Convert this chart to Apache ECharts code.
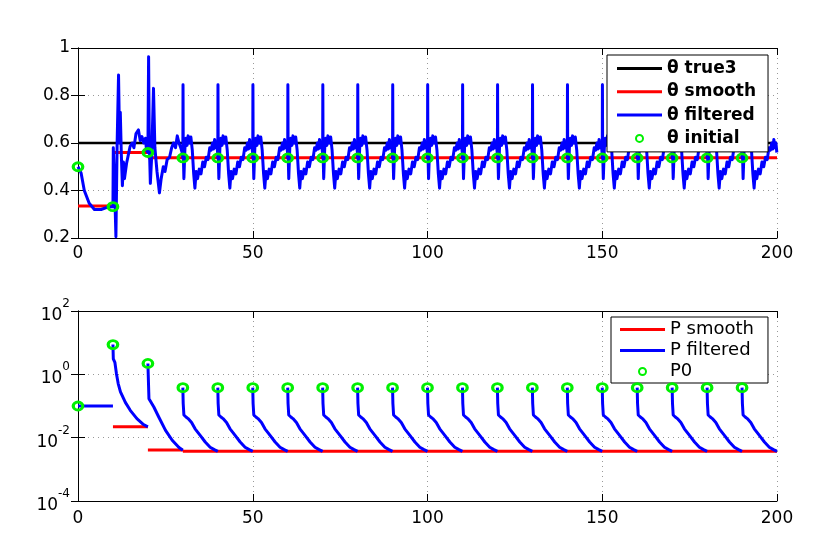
<!DOCTYPE html>
<html><head><meta charset="utf-8">
<script src="https://cdn.jsdelivr.net/npm/echarts@6/dist/echarts.min.js"></script>
<style>html,body{margin:0;padding:0;background:#fff}#c{width:831px;height:554px}</style>
</head><body><div id="c"></div>
<script>
// ---------- data ----------
const xTicks = [0, 50, 100, 150, 200];
const thetaTicks = [0.2, 0.4, 0.6, 0.8, 1];
const pTicks = [1e-4, 1e-2, 1, 1e2];
const cycleStarts = [30, 40, 50, 60, 70, 80, 90, 100, 110, 120, 130, 140, 150, 160, 170, 180, 190];

const thetaTrueX = [0, 200];
const thetaTrueY = [0.6, 0.6];
// [from, to, value]
const thetaSmoothSegs = [[0, 10, 0.335], [10, 20, 0.56], [20, 200, 0.538]];

// filtered theta, first 30 steps
const thetaStartX = [0,0.9,1.8,3.2,4.7,6.6,8.5,10.0,
  10.1,10.5,10.85,11.2,11.6,11.9,12.1,12.4,12.7,13.0,13.3,13.9,14.4,14.9,15.5,16.0,16.6,17.3,17.8,18.3,18.8,19.3,19.6,20.0,
  20.2,20.4,20.7,21.1,21.6,22.0,22.6,23.3,23.8,24.4,24.9,25.5,26.2,26.8,27.3,27.9,28.4,28.9,29.4,29.8];
const thetaStartY = [0.5,0.473,0.40,0.346,0.32,0.32,0.33,0.332,
  0.58,0.40,0.205,0.60,0.886,0.60,0.73,0.55,0.42,0.52,0.45,0.515,0.55,0.585,0.60,0.58,0.64,0.655,0.61,0.627,0.60,0.62,0.57,0.56,
  0.963,0.60,0.43,0.55,0.83,0.58,0.48,0.39,0.45,0.50,0.48,0.53,0.54,0.58,0.60,0.58,0.63,0.60,0.58,0.56];
// one repeating 10-step cycle of filtered theta (offset within cycle, value)
const thetaCycleDX = [0,0.05,0.12,0.3,0.6,0.9,1.2,1.5,1.9,2.3,2.7,3.1,3.45,3.8,4.2,4.7,5.2,5.7,6.2,6.7,7.2,7.7,8.1,8.5,8.8,9.1,9.4,9.7,9.95];
const thetaCycleY  = [0.537,0.845,0.56,0.45,0.58,0.62,0.59,0.63,0.60,0.625,0.57,0.47,0.41,0.48,0.45,0.49,0.47,0.52,0.50,0.54,0.53,0.58,0.57,0.60,0.575,0.615,0.58,0.60,0.56];

const thetaInitX = [0, 10, 20];
const thetaInitY = [0.5, 0.332, 0.56];
const thetaInitCycle = 0.537;

// P
const pSmoothSegs = [[10, 20, 0.022], [20, 30, 0.0041], [30, 200, 0.0037]];
const pSeg0X = [0, 10];
const pSeg0Y = [0.1, 0.1];
const pSeg1X = [10, 10.1, 10.55, 11.0, 11.5, 12.15, 13.55, 14.95, 16.85, 18.75, 20];
const pSeg1Y = [8.7, 3.1, 2.4, 1.05, 0.51, 0.28, 0.13, 0.073, 0.040, 0.026, 0.022];
const pSeg2X = [20, 20.3, 21.7, 23.1, 25.05, 26.95, 28.9, 30];
const pSeg2Y = [2.2, 0.17, 0.093, 0.045, 0.017, 0.0083, 0.0049, 0.0040];
const pCycleDX = [0, 0.1, 0.3, 0.9, 1.5, 2.5, 3.5, 4.9, 6.4, 7.8, 9.0, 10.0];
const pCycleY  = [0.38, 0.12, 0.052, 0.045, 0.040, 0.030, 0.019, 0.012, 0.0073, 0.005, 0.0042, 0.0037];

const p0X = [0, 10, 20];
const p0Y = [0.1, 8.7, 2.2];
const p0Cycle = 0.38;

// ---------- build series data ----------
function zip(xs, ys) { return xs.map((x, i) => [x, ys[i]]); }
function joinSegs(segs) {
  const out = [];
  segs.forEach((s, i) => { if (i) out.push([s[0][0], '-']); s.forEach(p => out.push(p)); });
  return out;
}
function flatSegs(list) { return joinSegs(list.map(s => [[s[0], s[2]], [s[1], s[2]]])); }

const thetaFiltered = zip(thetaStartX, thetaStartY);
cycleStarts.forEach(s => thetaCycleDX.forEach((d, i) => thetaFiltered.push([s + d, thetaCycleY[i]])));
const thetaInit = zip(thetaInitX, thetaInitY).concat(cycleStarts.map(s => [s, thetaInitCycle]));

const pSegs = [zip(pSeg0X, pSeg0Y), zip(pSeg1X, pSeg1Y), zip(pSeg2X, pSeg2Y)];
cycleStarts.forEach(s => pSegs.push(pCycleDX.map((d, i) => [s + d, pCycleY[i]])));
const pFiltered = joinSegs(pSegs);
const p0 = zip(p0X, p0Y).concat(cycleStarts.map(s => [s, p0Cycle]));

// ---------- chart ----------
const FONT = "'DejaVu Sans', sans-serif";
const GREEN = '#00f000';
const LINE_ICON = 'path://M0 0H150V10H0Z';
const grid = { color: '#999', width: 1, type: [1, 4] };

function xAx(gi, pos) {
  const main = pos === 'bottom';
  return {
    type: 'value', gridIndex: gi, position: pos, min: 0, max: 200, interval: 50,
    axisLine: { show: true, onZero: false, lineStyle: { color: '#000', width: 1 } },
    axisTick: { show: true, inside: true, length: 7, lineStyle: { color: '#000' } },
    axisLabel: { show: main, color: '#000', fontSize: 17, fontFamily: FONT, margin: gi === 0 ? 7 : 9,
      showMinLabel: true, showMaxLabel: true },
    splitLine: { show: main, lineStyle: grid }
  };
}
function yTheta(pos) {
  const main = pos === 'left';
  return {
    type: 'value', gridIndex: 0, position: pos, min: 0.2, max: 1, interval: 0.2,
    axisLine: { show: true, lineStyle: { color: '#000', width: 1 } },
    axisTick: { show: true, inside: true, length: 7, lineStyle: { color: '#000' } },
    axisLabel: { show: main, color: '#000', fontSize: 17, fontFamily: FONT, margin: 8,
      showMinLabel: true, showMaxLabel: true,
      formatter: v => String(Math.round(v * 10) / 10) },
    splitLine: { show: main, lineStyle: grid }
  };
}
function yP(pos) {
  const main = pos === 'left';
  return {
    type: 'log', logBase: 100, gridIndex: 1, position: pos, min: pTicks[0], max: pTicks[pTicks.length - 1],
    axisLine: { show: true, lineStyle: { color: '#000', width: 1 } },
    axisTick: { show: true, inside: true, length: 7, lineStyle: { color: '#000' } },
    minorTick: { show: false },
    axisLabel: { show: main, color: '#000', margin: 8, showMinLabel: true, showMaxLabel: true,
      formatter: v => '{a|10}{b|' + Math.round(Math.log10(v)) + '}',
      rich: {
        a: { fontSize: 17, fontFamily: FONT, color: '#000', lineHeight: 26, verticalAlign: 'bottom' },
        b: { fontSize: 12, fontFamily: FONT, color: '#000', lineHeight: 14, verticalAlign: 'top' }
      } },
    splitLine: { show: main, lineStyle: grid }
  };
}

const chart = echarts.init(document.getElementById('c'), null, { renderer: 'canvas' });
chart.setOption({
  animation: false,
  backgroundColor: '#fff',
  grid: [
    { left: 78, top: 48, width: 699, height: 190, containLabel: false },
    { left: 78, top: 311, width: 699, height: 190, containLabel: false }
  ],
  xAxis: [xAx(0, 'bottom'), xAx(0, 'top'), xAx(1, 'bottom'), xAx(1, 'top')],
  yAxis: [yTheta('left'), yTheta('right'), yP('left'), yP('right')],
  legend: [
    { data: [{ name: 'θ true3', icon: LINE_ICON }, { name: 'θ smooth', icon: LINE_ICON },
             { name: 'θ filtered', icon: LINE_ICON }, { name: 'θ initial' }], orient: 'vertical',
      left: 607, top: 55, padding: [2, 12, 2, 10], itemGap: 0.3, itemWidth: 45, itemHeight: 7,
      borderColor: '#000', borderWidth: 1, borderRadius: 0, backgroundColor: '#fff', selectedMode: false,
      textStyle: { fontSize: 17, fontWeight: 'bold', fontFamily: FONT, color: '#000', lineHeight: 23 } },
    { data: [{ name: 'P smooth', icon: LINE_ICON }, { name: 'P filtered', icon: LINE_ICON }, { name: 'P0' }],
      orient: 'vertical',
      left: 611, top: 317, padding: [2, 14, 1, 9], itemGap: 0, itemWidth: 45, itemHeight: 7,
      borderColor: '#000', borderWidth: 1, borderRadius: 0, backgroundColor: '#fff', selectedMode: false,
      textStyle: { fontSize: 18, fontFamily: FONT, color: '#000', lineHeight: 21 } }
  ],
  series: [
    { name: 'θ true3', type: 'line', xAxisIndex: 0, yAxisIndex: 0, symbol: 'none',
      data: zip(thetaTrueX, thetaTrueY), lineStyle: { color: '#000', width: 2.5 }, itemStyle: { color: '#000' } },
    { name: 'θ smooth', type: 'line', xAxisIndex: 0, yAxisIndex: 0, symbol: 'none', connectNulls: false,
      data: flatSegs(thetaSmoothSegs), lineStyle: { color: '#ff0000', width: 3 }, itemStyle: { color: '#ff0000' } },
    { name: 'θ filtered', type: 'line', xAxisIndex: 0, yAxisIndex: 0, symbol: 'none',
      data: thetaFiltered, lineStyle: { color: '#0000ff', width: 3, join: 'round' }, itemStyle: { color: '#0000ff' } },
    { name: 'θ initial', type: 'scatter', xAxisIndex: 0, yAxisIndex: 0, symbol: 'circle', symbolSize: [9.5, 8],
      z: 5, data: thetaInit, itemStyle: { color: 'rgba(0,0,0,0)', borderColor: GREEN, borderWidth: 3, opacity: 1 } },

    { name: 'P smooth', type: 'line', xAxisIndex: 2, yAxisIndex: 2, symbol: 'none', connectNulls: false,
      data: flatSegs(pSmoothSegs), lineStyle: { color: '#ff0000', width: 3 }, itemStyle: { color: '#ff0000' } },
    { name: 'P filtered', type: 'line', xAxisIndex: 2, yAxisIndex: 2, symbol: 'none', connectNulls: false,
      data: pFiltered, lineStyle: { color: '#0000ff', width: 3, join: 'round' }, itemStyle: { color: '#0000ff' } },
    { name: 'P0', type: 'scatter', xAxisIndex: 2, yAxisIndex: 2, symbol: 'circle', symbolSize: [9.5, 8],
      z: 5, data: p0, itemStyle: { color: 'rgba(0,0,0,0)', borderColor: GREEN, borderWidth: 3, opacity: 1 } }
  ]
});
</script>
</body></html>
